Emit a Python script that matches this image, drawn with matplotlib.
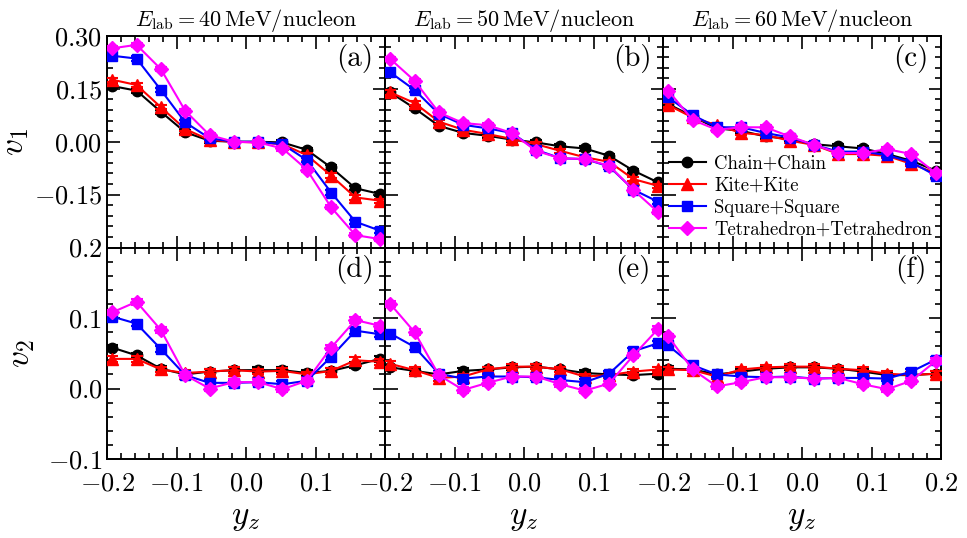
import numpy as np
import matplotlib
matplotlib.use("Agg")
import matplotlib.pyplot as plt
from matplotlib.ticker import MultipleLocator, FixedLocator, FixedFormatter
from matplotlib.lines import Line2D

plt.rcParams['font.family'] = 'serif'
plt.rcParams['font.serif'] = ['cmr10', 'DejaVu Serif']
plt.rcParams['mathtext.fontset'] = 'cm'
plt.rcParams['axes.unicode_minus'] = False

# ---------------- data ----------------
yz = [-0.1925, -0.1575, -0.1225, -0.0875, -0.0525, -0.0175,
      0.0175, 0.0525, 0.0875, 0.1225, 0.1575, 0.1925]

series_names = ["Chain+Chain", "Kite+Kite", "Square+Square", "Tetrahedron+Tetrahedron"]

energies = ["40", "50", "60"]

# v1 at 40 MeV/nucleon
v1_40_chain = [0.158, 0.145, 0.085, 0.027, 0.003, 0.000, 0.000, -0.002, -0.023, -0.073, -0.132, -0.148]
v1_40_kite = [0.176, 0.161, 0.098, 0.036, 0.005, 0.000, -0.002, -0.007, -0.038, -0.096, -0.158, -0.167]
v1_40_square = [0.244, 0.236, 0.147, 0.055, 0.010, 0.000, 0.000, -0.007, -0.052, -0.144, -0.227, -0.252]
v1_40_tetra = [0.265, 0.275, 0.206, 0.088, 0.019, 0.000, -0.002, -0.019, -0.079, -0.186, -0.265, -0.276]

# v1 at 50 MeV/nucleon
v1_50_chain = [0.140, 0.095, 0.045, 0.025, 0.017, 0.006, -0.002, -0.013, -0.019, -0.040, -0.082, -0.115]
v1_50_kite = [0.140, 0.110, 0.057, 0.034, 0.022, 0.008, -0.007, -0.026, -0.044, -0.057, -0.106, -0.125]
v1_50_square = [0.197, 0.147, 0.079, 0.048, 0.038, 0.025, -0.023, -0.047, -0.049, -0.070, -0.136, -0.170]
v1_50_tetra = [0.235, 0.173, 0.083, 0.053, 0.047, 0.025, -0.026, -0.047, -0.049, -0.068, -0.137, -0.199]

# v1 at 60 MeV/nucleon
v1_60_chain = [0.107, 0.072, 0.038, 0.031, 0.015, 0.008, -0.007, -0.013, -0.019, -0.035, -0.054, -0.082]
v1_60_kite = [0.104, 0.069, 0.047, 0.025, 0.019, 0.003, -0.009, -0.035, -0.035, -0.040, -0.063, -0.089]
v1_60_square = [0.126, 0.076, 0.041, 0.041, 0.025, 0.012, -0.009, -0.028, -0.028, -0.038, -0.058, -0.096]
v1_60_tetra = [0.145, 0.062, 0.034, 0.041, 0.041, 0.015, -0.009, -0.032, -0.032, -0.021, -0.035, -0.089]

# v2 at 40 MeV/nucleon
v2_40_chain = [0.058, 0.047, 0.028, 0.020, 0.024, 0.026, 0.026, 0.026, 0.022, 0.025, 0.033, 0.042]
v2_40_kite = [0.042, 0.042, 0.027, 0.022, 0.024, 0.026, 0.024, 0.025, 0.020, 0.025, 0.040, 0.038]
v2_40_square = [0.102, 0.092, 0.056, 0.019, 0.008, 0.008, 0.009, 0.006, 0.011, 0.045, 0.082, 0.077]
v2_40_tetra = [0.108, 0.123, 0.083, 0.019, 0.000, 0.009, 0.009, -0.001, 0.011, 0.058, 0.097, 0.089]

# v2 at 50 MeV/nucleon
v2_50_chain = [0.030, 0.025, 0.020, 0.025, 0.027, 0.030, 0.031, 0.027, 0.022, 0.020, 0.019, 0.021]
v2_50_kite = [0.035, 0.026, 0.015, 0.017, 0.027, 0.031, 0.031, 0.027, 0.017, 0.019, 0.024, 0.027]
v2_50_square = [0.078, 0.059, 0.021, 0.014, 0.017, 0.017, 0.016, 0.012, 0.009, 0.021, 0.053, 0.064]
v2_50_tetra = [0.120, 0.080, 0.019, -0.002, 0.008, 0.017, 0.017, 0.006, -0.003, 0.007, 0.047, 0.084]

# v2 at 60 MeV/nucleon
v2_60_chain = [0.028, 0.027, 0.020, 0.024, 0.028, 0.030, 0.030, 0.028, 0.024, 0.019, 0.019, 0.021]
v2_60_kite = [0.027, 0.026, 0.017, 0.027, 0.030, 0.031, 0.031, 0.028, 0.026, 0.021, 0.019, 0.021]
v2_60_square = [0.061, 0.033, 0.020, 0.017, 0.016, 0.017, 0.014, 0.015, 0.015, 0.014, 0.024, 0.041]
v2_60_tetra = [0.074, 0.027, 0.003, 0.009, 0.016, 0.016, 0.014, 0.015, 0.006, -0.001, 0.011, 0.039]

v1_err = 0.006
v2_err = 0.004

panel_tags = ["(a)", "(b)", "(c)", "(d)", "(e)", "(f)"]

v1_tick_vals = [-0.30, -0.15, 0.00, 0.15, 0.30]
v1_tick_labels = ["", "$-0.15$", "$0.00$", "$0.15$", "$0.30$"]
v2_tick_vals = [-0.1, 0.0, 0.1, 0.2]
v2_tick_labels = ["$-0.1$", "$0.0$", "$0.1$", "$0.2$"]
x_tick_vals = [-0.2, -0.1, 0.0, 0.1, 0.2]
x_tick_labels_inner = ["$-0.2$", "$-0.1$", "$0.0$", "$0.1$", ""]
x_tick_labels_last = ["$-0.2$", "$-0.1$", "$0.0$", "$0.1$", "$0.2$"]

# ---------------- styles ----------------
colors = ["black", "red", "blue", "#ff00ff"]
markers = ["o", "^", "s", "D"]
msizes = [7.5, 8, 7, 7]

v1_data = [
    [v1_40_chain, v1_40_kite, v1_40_square, v1_40_tetra],
    [v1_50_chain, v1_50_kite, v1_50_square, v1_50_tetra],
    [v1_60_chain, v1_60_kite, v1_60_square, v1_60_tetra],
]
v2_data = [
    [v2_40_chain, v2_40_kite, v2_40_square, v2_40_tetra],
    [v2_50_chain, v2_50_kite, v2_50_square, v2_50_tetra],
    [v2_60_chain, v2_60_kite, v2_60_square, v2_60_tetra],
]

W, H = 967, 538
fig = plt.figure(figsize=(W / 100, H / 100), dpi=100)

left_px = 107
panel_w = 278
top_px = 36
panel_h = 211.5


def make_ax(col, row):
    x0 = (left_px + col * panel_w) / W
    y0 = 1 - (top_px + (row + 1) * panel_h) / H
    return fig.add_axes([x0, y0, panel_w / W, panel_h / H])


def style_ax(ax):
    for s in ax.spines.values():
        s.set_linewidth(1.4)
    ax.tick_params(which='both', direction='in', top=True, right=True, width=1.2)
    ax.tick_params(which='major', length=9)
    ax.tick_params(which='minor', length=4.5)
    ax.xaxis.set_minor_locator(MultipleLocator(0.02))


axes = []
for row in range(2):
    for col in range(3):
        ax = make_ax(col, row)
        style_ax(ax)
        data = v1_data[col] if row == 0 else v2_data[col]
        err = v1_err if row == 0 else v2_err
        for k in range(4):
            ax.errorbar(yz, data[k], yerr=err, color=colors[k], marker=markers[k],
                        markersize=msizes[k], linewidth=1.5, elinewidth=1.5,
                        capsize=4, capthick=1.5, zorder=3 + k)
        ax.set_xlim(-0.2, 0.2)
        ax.xaxis.set_major_locator(FixedLocator(x_tick_vals))
        if row == 0:
            ax.set_ylim(-0.3, 0.3)
            ax.yaxis.set_major_locator(FixedLocator(v1_tick_vals))
            ax.yaxis.set_minor_locator(MultipleLocator(0.03))
            ax.set_xticklabels([])
            ax.set_title(r"$E_{\rm lab}=" + energies[col] + r"\,{\rm MeV/nucleon}$",
                         fontsize=16, pad=7)
        else:
            ax.set_ylim(-0.1, 0.2)
            ax.yaxis.set_major_locator(FixedLocator(v2_tick_vals))
            ax.yaxis.set_minor_locator(MultipleLocator(0.02))
            ax.xaxis.set_major_formatter(FixedFormatter(
                x_tick_labels_last if col == 2 else x_tick_labels_inner))
            ax.tick_params(axis='x', labelsize=19, pad=9)
            ax.set_xlabel(r"$y_z$", fontsize=24, labelpad=6)
        if col == 0:
            if row == 0:
                ax.yaxis.set_major_formatter(FixedFormatter(v1_tick_labels))
                ax.set_ylabel(r"$v_1$", fontsize=24, labelpad=2)
            else:
                ax.yaxis.set_major_formatter(FixedFormatter(v2_tick_labels))
                ax.set_ylabel(r"$v_2$", fontsize=24, labelpad=8)
            ax.tick_params(axis='y', labelsize=19)
        else:
            ax.set_yticklabels([])
        ax.text(0.89, 0.895, panel_tags[row * 3 + col], transform=ax.transAxes,
                fontsize=21, ha='center', va='center')
        axes.append(ax)

handles = [Line2D([], [], color=colors[k], marker=markers[k], markersize=msizes[k],
                  linewidth=1.5) for k in range(4)]
leg = axes[2].legend(handles, series_names, loc='upper left',
                     bbox_to_anchor=(0.02, 0.44), frameon=False,
                     fontsize=13.5, handlelength=2.0, handletextpad=0.45,
                     labelspacing=0.22, borderpad=0.0, borderaxespad=0.0)

fig.savefig("out.png", dpi=100)
